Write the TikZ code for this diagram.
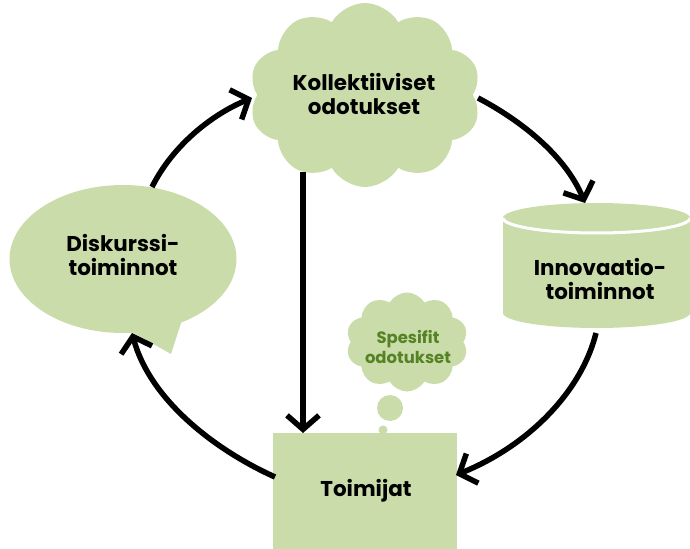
\documentclass[tikz,border=0pt]{standalone}
\usepackage{fontspec}
\setmainfont{Poppins}[Ligatures=NoCommon]
\usetikzlibrary{shapes.symbols,shapes.geometric,arrows.meta}
\definecolor{sage}{RGB}{203,220,171}
\definecolor{leaf}{RGB}{84,130,36}
\begin{document}
\begin{tikzpicture}[x=1bp,y=-1bp,
  lbl/.style={font=\bfseries\fontsize{21.5}{25}\selectfont,align=center,text=black},
  conn/.style={line width=5.5bp,-{Straight Barb[length=14bp,width=32bp]}},
  puffy/.style={cloud,cloud puffs=10,cloud puff arc=120,aspect=1.3,fill=sage,inner sep=0pt}]
\useasboundingbox (0,0) rectangle (690,549);
% Kollektiiviset cloud
\node[puffy,minimum width=232bp,minimum height=184bp] (koll) at (365,95) {};
\node[lbl] (kollt) at (364,94) {Kollektiiviset\\odotukset};
% Diskurssi speech bubble
\fill[sage] (125,328) -- (171,354) -- (182,320) -- cycle;
\node[ellipse,fill=sage,minimum width=227bp,minimum height=148bp,inner sep=0pt] (disk) at (123,259) {};
\node[lbl] (diskt) at (123,255) {Diskurssi-\\toiminnot};
% Innovaatio cylinder
\fill[sage] (596.5,313) ellipse [x radius=93.5,y radius=15];
\fill[sage] (503,218) rectangle (690,313);
\fill[sage] (596.5,218) ellipse [x radius=93.5,y radius=15];
\draw[white,line width=3bp] (503,218) arc[start angle=180,end angle=0,x radius=93.5,y radius=15];
\node[lbl] (innov) at (600,279) {Innovaatio-\\toiminnot};
% Toimijat box
\node[fill=sage,minimum width=184bp,minimum height=120bp,inner sep=0pt] (toim) at (365,493) {};
\node[lbl] (toimt) at (366,491) {Toimijat};
% Spesifit thought cloud
\fill[sage] (390,408) circle (13);
\fill[sage] (383,430) circle (4.5);
\node[puffy,minimum width=122bp,minimum height=99bp] (spes) at (407,342) {};
\node[font=\bfseries\fontsize{16.5}{20}\selectfont,align=center,text=leaf] (spest) at (408,347) {Spesifit\\odotukset};
% connectors
\coordinate (a1s) at (152,187); \coordinate (a1e) at (252,98);
\coordinate (a2s) at (478,98);  \coordinate (a2e) at (585,203);
\coordinate (a3s) at (596,333); \coordinate (a3e) at (456,475);
\coordinate (a4s) at (275,477); \coordinate (a4e) at (132,333);
\coordinate (a5s) at (303,172); \coordinate (a5e) at (303,433);
\draw[conn] (a1s) .. controls (174,143) and (215,113) .. (a1e);
\draw[conn] (a2s) .. controls (520,120) and (565,155) .. (a2e);
\draw[conn] (a3s) .. controls (582,390) and (530,445) .. (a3e);
\draw[conn] (a4s) .. controls (215,450) and (150,400) .. (a4e);
\draw[conn] (a5s) -- (a5e);
\end{tikzpicture}
\end{document}
